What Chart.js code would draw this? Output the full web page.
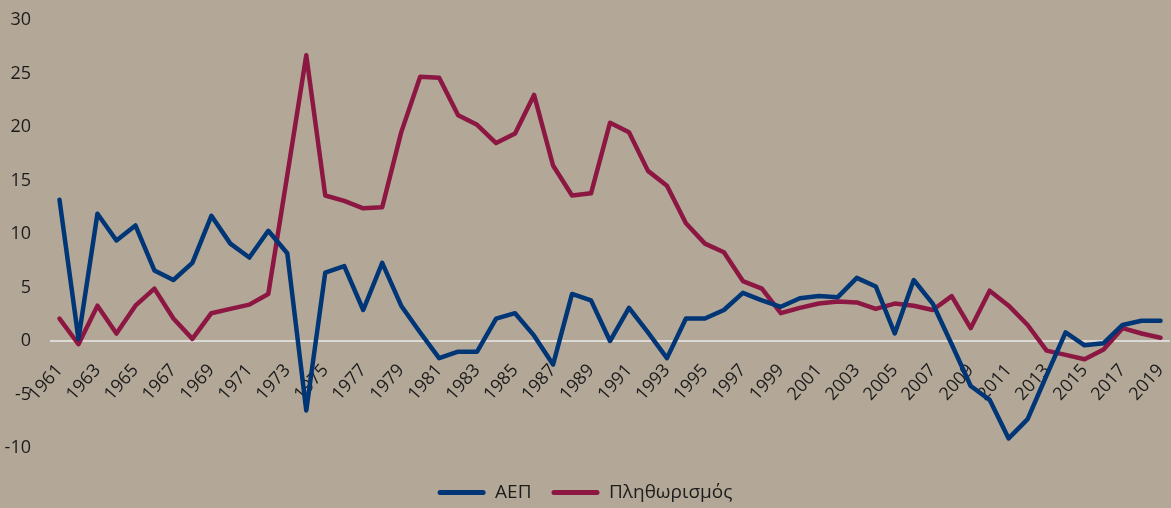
<!DOCTYPE html>
<html>
<head>
<meta charset="utf-8">
<script src="https://cdn.jsdelivr.net/npm/chart.js@4"></script>
<style>
  html, body { margin: 0; padding: 0; background: #b3a898; }
  #wrap { width: 1171px; height: 508px; position: relative; }
</style>
</head>
<body>
<div id="wrap"><canvas id="chart"></canvas></div>
<script>
const years = [];
for (let y = 1961; y <= 2019; y++) years.push(String(y));

// ΑΕΠ (annual %)
const gdp = [
  13.2, 0.2, 11.9, 9.4, 10.8, 6.6, 5.7, 7.3, 11.7, 9.1,
  7.8, 10.3, 8.2, -6.5, 6.4, 7.0, 2.9, 7.3, 3.3, 0.8,
  -1.6, -1.0, -1.0, 2.1, 2.6, 0.5, -2.2, 4.4, 3.8, 0.0,
  3.1, 0.8, -1.6, 2.1, 2.1, 2.9, 4.5, 3.8, 3.2, 4.0,
  4.2, 4.1, 5.9, 5.1, 0.7, 5.7, 3.5, -0.3, -4.2, -5.5,
  -9.1, -7.3, -3.2, 0.8, -0.4, -0.2, 1.5, 1.9, 1.9
];

// Πληθωρισμός (annual %)
const inflation = [
  2.1, -0.3, 3.3, 0.7, 3.3, 4.9, 2.1, 0.2, 2.6, 3.0,
  3.4, 4.4, 15.5, 26.7, 13.6, 13.1, 12.4, 12.5, 19.5, 24.7,
  24.6, 21.1, 20.2, 18.5, 19.4, 23.0, 16.4, 13.6, 13.8, 20.4,
  19.5, 15.9, 14.5, 11.0, 9.1, 8.3, 5.6, 4.9, 2.6, 3.1,
  3.5, 3.7, 3.6, 3.0, 3.5, 3.3, 2.9, 4.2, 1.2, 4.7,
  3.3, 1.5, -0.9, -1.3, -1.7, -0.8, 1.2, 0.7, 0.3
];

const yTicks = [-10, -5, 0, 5, 10, 15, 20, 25, 30];

const navy = '#003576';
const maroon = '#8c1742';
const textColor = '#1c1c1c';
const font = { family: '"Open Sans", "Noto Sans", sans-serif', size: 18 };

Chart.defaults.color = textColor;
Chart.defaults.font = font;

const ctx = document.getElementById('chart');

new Chart(ctx, {
  type: 'line',
  data: {
    labels: years,
    datasets: [{
      label: 'ΑΕΠ',
      data: gdp,
      borderColor: navy,
      backgroundColor: navy
    }, {
      label: 'Πληθωρισμός',
      data: inflation,
      borderColor: maroon,
      backgroundColor: maroon
    }]
  },
  options: {
    responsive: true,
    maintainAspectRatio: false,
    animation: false,
    layout: { padding: { top: 20, right: 1, left: 0, bottom: -4 } },
    elements: {
      line: { borderWidth: 4.5, tension: 0, borderJoinStyle: 'round', borderCapStyle: 'round' },
      point: { radius: 0, hoverRadius: 0 }
    },
    scales: {
      x: {
        position: { y: 0 },
        offset: true,
        grid: { display: false, drawTicks: false },
        border: { display: false },
        afterFit: (scale) => { scale.paddingLeft = 0; scale.paddingRight = 0; },
        ticks: {
          autoSkip: false,
          minRotation: 48,
          maxRotation: 48,
          padding: 19,
          color: textColor,
          callback: (v, i) => (i % 2 === 0 ? years[i] : '')
        }
      },
      y: {
        min: -11.4,
        max: 30,
        afterBuildTicks: (scale) => {
          scale.ticks = yTicks.map(v => ({ value: v }));
        },
        afterFit: (scale) => {
          scale.width = 50;
          scale.paddingTop = 0;
          scale.paddingBottom = 0;
        },
        grid: {
          drawTicks: false,
          lineWidth: 2,
          color: (c) => (c.tick && c.tick.value === 0 ? '#dcdad6' : 'rgba(0,0,0,0)')
        },
        border: { display: false },
        ticks: { padding: 19, color: textColor }
      }
    },
    plugins: {
      tooltip: { enabled: false },
      legend: {
        position: 'bottom',
        labels: {
          boxWidth: 48,
          boxHeight: 5,
          useBorderRadius: true,
          borderRadius: 2.5,
          padding: 20,
          color: textColor,
          font: { size: 19 },
          generateLabels: (chart) =>
            Chart.defaults.plugins.legend.labels.generateLabels(chart).map(l => ({ ...l, lineWidth: 0 }))
        }
      }
    }
  }
});
</script>
</body>
</html>
